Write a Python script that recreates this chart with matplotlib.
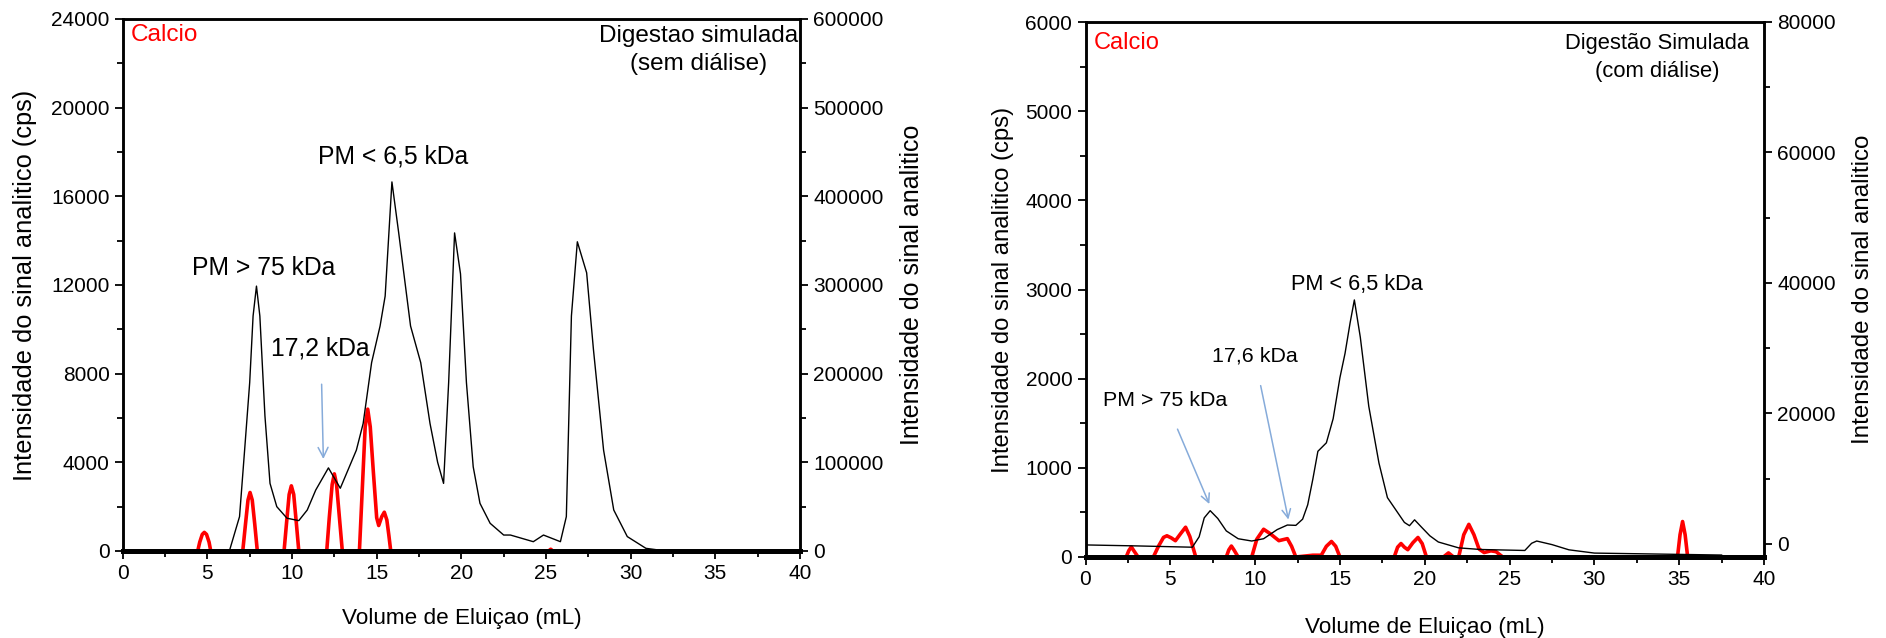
import matplotlib.pyplot as plt
from matplotlib.ticker import MultipleLocator

plt.rcParams['font.family'] = ['Liberation Sans', 'DejaVu Sans']
TICK_FONT = ['Liberation Sans Narrow', 'Liberation Sans', 'DejaVu Sans']

# --- painel esquerdo: digestao simulada (sem dialise) ---
# sinal (eixo da direita)
vol_sem = [6.3, 6.9, 7.2, 7.5, 7.7, 7.9, 8.1, 8.4, 8.7, 9.1, 9.7, 10.4, 10.9, 11.4,
           12.15, 12.85, 13.8, 14.2, 14.7, 15.2, 15.5, 15.9, 16.3, 17.0, 17.6, 18.15,
           18.6, 18.95, 19.25, 19.6, 19.95, 20.3, 20.7, 21.1, 21.7, 22.5, 22.9, 24.25,
           24.85, 25.85, 26.2, 26.5, 26.85, 27.4, 27.8, 28.4, 29.0, 29.8, 30.9, 31.7]
sinal_sem = [0, 38750, 113750, 190000, 265000, 298750, 265000, 152500, 76250, 50000,
             37000, 34250, 46250, 68750, 93750, 70750, 113750, 143750, 212500, 253750,
             287500, 416250, 358750, 253750, 212500, 143750, 100000, 76250, 190000,
             358750, 312500, 190000, 95000, 53750, 31250, 18000, 18000, 10500, 18000,
             10500, 38750, 265000, 348750, 313750, 227500, 113750, 46250, 16250, 3000, 1000]
# calcio (eixo da esquerda, cps)
ca_vol_sem = [4.43, 4.55, 4.7, 4.82, 4.95, 5.1, 5.2,
              7.09, 7.25, 7.4, 7.52, 7.65, 7.8, 7.95,
              9.53, 9.68, 9.83, 9.96, 10.1, 10.25, 10.4,
              12.05, 12.2, 12.37, 12.5, 12.63, 12.8, 12.97,
              13.98, 14.15, 14.32, 14.47, 14.62, 14.8, 15.0, 15.12, 15.3, 15.45, 15.6, 15.72, 15.83,
              25.15, 25.28, 25.4]
ca_sem = [0, 400, 750, 840, 750, 400, 0,
          0, 1200, 2300, 2640, 2300, 1200, 0,
          0, 1300, 2550, 2940, 2550, 1300, 0,
          0, 1500, 3000, 3480, 3000, 1500, 0,
          0, 2800, 5600, 6400, 5600, 3600, 1500, 1150, 1550, 1750, 1400, 700, 0,
          0, 80, 0]

# --- painel direito: digestao simulada (com dialise) ---
vol_com = [0, 3.0, 6.3, 6.7, 7.0, 7.35, 7.8, 8.3, 9.0, 9.8, 10.5, 11.3, 11.9, 12.4, 12.8,
           13.1, 13.4, 13.7, 14.2, 14.6, 15.0, 15.3, 15.6, 15.85, 16.2, 16.7, 17.3, 17.8,
           18.3, 18.8, 19.1, 19.4, 19.8, 20.3, 20.8, 22.0, 23.3, 25.9, 26.3, 26.6, 27.5,
           28.5, 30.0, 32.5, 37.5]
sinal_com = [-150, -300, -500, 1100, 4000, 5100, 3900, 2000, 800, 450, 800, 2200, 2900,
             2850, 3800, 6000, 9900, 14200, 15500, 19200, 25500, 29200, 33900, 37400,
             31700, 21100, 12400, 7100, 5200, 3300, 2800, 3700, 2600, 1250, 300, -600,
             -850, -1000, 100, 450, -100, -900, -1400, -1500, -1700]
ca_vol_com = [2.4, 2.55, 2.7, 2.85, 3.1,
              4.0, 4.3, 4.6, 4.8, 5.05, 5.3, 5.6, 5.9, 6.15, 6.5,
              8.3, 8.45, 8.6, 8.75, 9.0,
              9.8, 10.1, 10.5, 10.9, 11.4, 11.9, 12.15, 12.4,
              13.4, 13.9, 14.2, 14.5, 14.75, 15.0,
              18.2, 18.4, 18.6, 18.8, 19.0, 19.3, 19.6, 19.85, 20.1,
              21.1, 21.4, 21.7,
              22.0, 22.3, 22.6, 22.9, 23.2, 23.5, 23.9, 24.2, 24.6,
              34.9, 35.05, 35.2, 35.35, 35.5]
ca_com = [0, 70, 114, 70, 0,
          0, 120, 220, 238, 215, 183, 260, 334, 230, 0,
          0, 80, 123, 80, 0,
          0, 200, 311, 260, 183, 206, 120, 0,
          20, 20, 120, 174, 120, 0,
          0, 110, 151, 110, 82, 160, 219, 150, 0,
          0, 46, 0,
          0, 250, 366, 250, 90, 50, 69, 60, 0,
          0, 250, 398, 250, 0]

ARROW = '#86ABDA'


def style(ax, ax2):
    for a in (ax, ax2):
        for s in ('top', 'left', 'right'):
            a.spines[s].set_linewidth(1.8)
        a.spines['bottom'].set_linewidth(3.5)
        a.tick_params(which='both', direction='out', width=1.3, labelsize=15,
                      labelfontfamily=TICK_FONT)
        a.tick_params(which='major', length=6)
        a.tick_params(which='minor', length=4)
    ax.xaxis.set_major_locator(MultipleLocator(5))
    ax.xaxis.set_minor_locator(MultipleLocator(2.5))
    ax.set_xlim(0, 40)


fig = plt.figure(figsize=(18.86, 6.38), dpi=100)

# painel esquerdo
ax = fig.add_axes([122.7 / 1886, 1 - 551 / 638, (800 - 122.7) / 1886, (551 - 19) / 638])
ax2 = ax.twinx()
ax.plot(ca_vol_sem, ca_sem, color='#FF0000', lw=2.6, zorder=1)
ax2.plot(vol_sem, sinal_sem, color='black', lw=1.0)
ax.set_ylim(0, 24000)
ax2.set_ylim(0, 600000)
ax.yaxis.set_major_locator(MultipleLocator(4000))
ax.yaxis.set_minor_locator(MultipleLocator(2000))
ax2.yaxis.set_major_locator(MultipleLocator(100000))
ax2.yaxis.set_minor_locator(MultipleLocator(50000))
style(ax, ax2)
ax.set_xlabel('Volume de Eluiçao (mL)', fontsize=16.2, labelpad=18)
ax.set_ylabel('Intensidade do sinal analitico (cps)', fontsize=18.3, labelpad=10)
ax2.set_ylabel('Intensidade do sinal analitico', fontsize=18, labelpad=12)
ax.text(0.45, 23300, 'Calcio', color='#FF0000', fontsize=17.6, va='center')
ax.text(34.0, 22600, 'Digestao simulada\n(sem diálise)', fontsize=17.5,
        ha='center', va='center', multialignment='center', linespacing=1.4)
ax.text(8.3, 12750, 'PM > 75 kDa', fontsize=17.8, ha='center', va='center')
ax.text(16.0, 17780, 'PM < 6,5 kDa', fontsize=17.8, ha='center', va='center')
ax.annotate('17,2 kDa', xy=(11.85, 4150), xytext=(11.7, 9130), fontsize=17.8,
            ha='center', va='center',
            arrowprops=dict(arrowstyle='->', color=ARROW, lw=1.1,
                            shrinkA=15, shrinkB=0))

# painel direito
bx = fig.add_axes([1085.5 / 1886, 1 - 557 / 638, (1764 - 1085.5) / 1886, (557 - 22) / 638])
bx2 = bx.twinx()
bx.plot(ca_vol_com, ca_com, color='#FF0000', lw=2.6, zorder=1)
bx2.plot(vol_com, sinal_com, color='black', lw=1.0)
bx.set_ylim(0, 6000)
bx2.set_ylim(-2000, 80000)
bx.yaxis.set_major_locator(MultipleLocator(1000))
bx.yaxis.set_minor_locator(MultipleLocator(500))
bx2.yaxis.set_major_locator(MultipleLocator(20000))
bx2.yaxis.set_minor_locator(MultipleLocator(10000))
style(bx, bx2)
bx.set_xlabel('Volume de Eluiçao (mL)', fontsize=16.2, labelpad=20)
bx.set_ylabel('Intensidade do sinal analitico (cps)', fontsize=17.2, labelpad=8)
bx2.set_ylabel('Intensidade do sinal analitico', fontsize=17.4, labelpad=12)
bx.text(0.5, 5770, 'Calcio', color='#FF0000', fontsize=17, va='center')
bx.text(33.7, 5600, 'Digestão Simulada\n(com diálise)', fontsize=15.8,
        ha='center', va='center', multialignment='center', linespacing=1.4)
bx.text(16.0, 3055, 'PM < 6,5 kDa', fontsize=15.7, ha='center', va='center')
bx.annotate('PM > 75 kDa', xy=(7.3, 594), xytext=(4.7, 1758), fontsize=15.4,
            ha='center', va='center',
            arrowprops=dict(arrowstyle='->', color=ARROW, lw=1.1,
                            shrinkA=13, shrinkB=0))
bx.annotate('17,6 kDa', xy=(11.96, 420), xytext=(9.96, 2258), fontsize=15.4,
            ha='center', va='center',
            arrowprops=dict(arrowstyle='->', color=ARROW, lw=1.1,
                            shrinkA=13, shrinkB=0))

fig.savefig('out.png', dpi=100)
